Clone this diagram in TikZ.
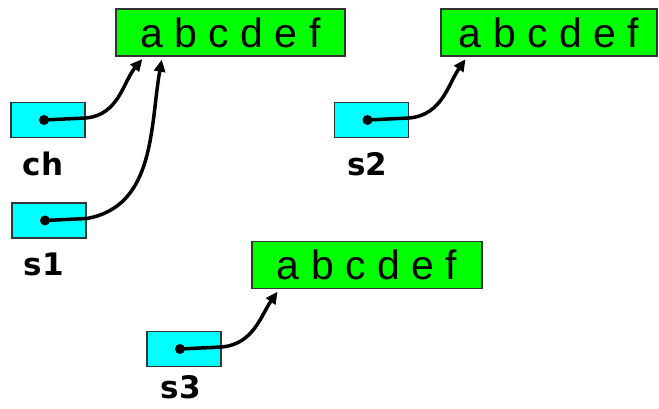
\documentclass[tikz,border=0pt]{standalone}
\usepackage{fontspec}
\setmainfont{Liberation Sans}
\newfontfamily\namefont{DejaVu Sans}
\usetikzlibrary{arrows.meta,positioning}
\definecolor{strgreen}{RGB}{0,255,0}
\definecolor{ptrcyan}{RGB}{0,255,255}

\begin{document}
\begin{tikzpicture}[x=1pt,y=1pt,>={Triangle[length=12pt,width=11pt]},shorten >=3pt,
                    strbox/.style={rectangle, draw=black!80, line width=1.5pt, fill=strgreen, minimum height=47pt, font=\fontsize{41}{41}\selectfont},
                    ptrbox/.style={rectangle, draw=black!80, line width=1.5pt, fill=ptrcyan, minimum width=74pt, minimum height=35pt},
                    varname/.style={inner sep=0pt, font=\namefont\fontsize{31}{31}\selectfont\bfseries},
                    ptr/.style={->, line width=3.5pt}]
  \useasboundingbox (0,0) rectangle (659,409);

  % Nodes
  \node[strbox, minimum width=229pt] (str1) at (230.5,376.5) {a b c d e f};
  \node[strbox, minimum width=216pt] (str2) at (549,376.5) {a b c d e f};
  \node[strbox, minimum width=230pt] (str3) at (367,144) {a b c d e f};
  \node[ptrbox] (ch) at (48,289) {};
  \node[ptrbox] (s1) at (49,188.5) {};
  \node[ptrbox] (s2) at (371.5,289) {};
  \node[ptrbox] (s3) at (184,60) {};

  % Labels
  \node[varname, below=14pt of ch, xshift=-5pt] (chname) {ch};
  \node[varname, below=14pt of s1, xshift=-5pt] (s1name) {s1};
  \node[varname, below=14pt of s2, xshift=-4pt] (s2name) {s2};
  \node[varname, below=8pt of s3, xshift=-3pt] (s3name) {s3};

  % Edges
  \foreach \p in {ch,s1,s2,s3}
    \fill ([xshift=-4pt]\p.center) circle (5pt);
  \draw[ptr] ([xshift=-4pt]ch.center) -- ([yshift=2pt]ch.east) to[out=5,in=-130] ([xshift=29pt]str1.south west);
  \draw[ptr] ([xshift=-4pt]s1.center) -- ([yshift=2pt]s1.east) to[out=10,in=-100] ([xshift=47pt]str1.south west);
  \draw[ptr] ([xshift=-4pt]s2.center) -- ([yshift=2pt]s2.east) to[out=5,in=-125] ([xshift=27pt]str2.south west);
  \draw[ptr] ([xshift=-4pt]s3.center) -- ([yshift=2pt]s3.east) to[out=5,in=-125] ([xshift=28pt]str3.south west);
\end{tikzpicture}
\end{document}
